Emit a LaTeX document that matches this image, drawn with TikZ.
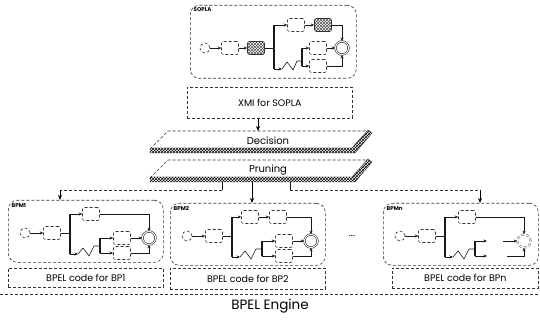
\documentclass[tikz,border=0pt]{standalone}
\usepackage{fontspec}
\setmainfont{Poppins}
\usetikzlibrary{arrows.meta,positioning,patterns}

\tikzset{
  line/.style={black!80, densely dashed, line width=0.6pt},
  panel/.style={draw=black!80, densely dashed, line width=0.6pt, rounded corners=9pt, anchor=north west, inner sep=0pt},
  codebox/.style={draw=black!80, densely dashed, line width=0.6pt, anchor=north west, inner sep=0pt, font=\fontsize{9.5}{10}\selectfont},
  tag/.style={font=\fontsize{5.5}{6}\selectfont\bfseries, inner sep=0.5pt},
  task/.style={draw=black!80, densely dashed, line width=0.6pt, rounded corners=2pt, minimum width=17pt, minimum height=13pt, inner sep=0pt},
  subproc/.style={task, solid, pattern=crosshatch, pattern color=black!70},
  startev/.style={circle, draw=black!80, densely dashed, line width=0.6pt, minimum size=10pt, inner sep=0pt},
  endev/.style={circle, draw=black!85, double, double distance=1pt, line width=0.6pt, minimum size=13pt, inner sep=0pt},
  flow/.style={-{Stealth[length=3.5pt,width=3pt]}, black!90, line width=0.6pt},
  seq/.style={black!90, line width=0.6pt},
  bar/.style={line width=1.6pt, black!90},
  arr/.style={-{Stealth[length=5pt,width=4pt]}, line width=0.8pt},
  plate/.style={pattern=crosshatch, pattern color=black, draw=black!80, line width=0.4pt},
}

\begin{document}
\begin{tikzpicture}[x=1pt,y=-1pt]
\useasboundingbox (0,0) rectangle (540,320);

% source model
\node[panel, minimum width=166pt, minimum height=73pt] (sopla) at (190,5) {};
\node[tag, below right=2pt and 3pt of sopla.north west] (soplatag) {SOPLA};
\begin{scope}[shift={(190,5)}, name prefix=s-]
  \node[startev] (st) at (15,43) {};
  \node[task] (a) at (40,43) {};
  \node[subproc] (h) at (66,43) {};
  \coordinate (b1t) at (84,20);
  \coordinate (b1b) at (84,64);
  \node[task] (u1) at (106,20) {};
  \node[subproc] (u2) at (133,20) {};
  \node[endev] (e) at (152,43) {};
  \coordinate (z0) at (92,64);
  \coordinate (b2t) at (112,43);
  \coordinate (b2b) at (112,61);
  \node[task] (l1) at (128,43) {};
  \node[task] (l2) at (128,61) {};
  \draw[bar] (b1t) -- (b1b);
  \draw[bar] (b2t) -- (b2b);
  \draw[flow] (st) -- (a);
  \draw[flow] (a) -- (h);
  \draw[seq] (h) -- (h -| b1t);
  \draw[flow] (b1t) -- (u1);
  \draw[flow] (u1) -- (u2);
  \draw[flow] (u2) -| (e);
  \draw[flow] (b1b) -- (z0);
  \draw[seq] (z0) -- (97,57) -- (103,65) -- (107,56) -- (b2t |- 0,56);
  \draw[flow] (b2t) -- (l1);
  \draw[flow] (b2b) -- (l2);
  \draw[flow] (l1) -- (e);
  \draw[flow] (l2) -| (e);
\end{scope}

\node[codebox, minimum width=165pt, minimum height=31pt] (xmi) at (187,87) {XMI for SOPLA};

% decision and pruning plates
\filldraw[plate] (150,148) -- (352,148) -- (368,130) -- (372,133) -- (355,153) -- (150,153) -- cycle;
\draw[line] (150,149) -- (168,131) -- (368,131);
\node[font=\fontsize{10}{10}\selectfont] (dec) at (268,141) {Decision};
\coordinate (dectop) at (258,131);
\draw[arr] (dectop |- xmi.south) -- (dectop);

\filldraw[plate] (150,177) -- (352,177) -- (368,159) -- (372,162) -- (355,182) -- (150,182) -- cycle;
\draw[line] (150,178) -- (168,160) -- (368,160);
\node[font=\fontsize{10}{10}\selectfont] (pru) at (268,170) {Pruning};

% generated models
\node[panel, minimum width=155pt, minimum height=62pt] (bpm1) at (8,200) {};
\node[panel, minimum width=155pt, minimum height=62pt] (bpm2) at (170,203) {};
\node[panel, minimum width=155pt, minimum height=62pt] (bpmn) at (383,203) {};
\node[tag, below right=3pt and 3pt of bpm1.north west] (bpm1tag) {BPM1};
\node[tag, below right=3pt and 3pt of bpm2.north west] (bpm2tag) {BPM2};
\node[tag, below right=3pt and 3pt of bpmn.north west] (bpmntag) {BPMn};

\coordinate (prL) at (222,182);
\coordinate (prM) at (252,182);
\coordinate (prR) at (290,182);
\coordinate (jL) at (60,190);
\coordinate (jR) at (480,190);
\draw[seq] (prL) -- (prL |- jL);
\draw[line] (prL |- jL) -- (jL);
\draw[arr] (jL) -- (jL |- bpm1.north);
\draw[arr] (prM) -- (prM |- bpm2.north);
\draw[seq] (prR) -- (prR |- jR);
\draw[line] (prR |- jR) -- (jR);
\draw[arr] (jR) -- (jR |- bpmn.north);

\begin{scope}[shift={(8,200)}, name prefix=p1-]
  \node[startev] (st) at (17,33) {};
  \node[task] (a) at (44,33) {};
  \coordinate (b1t) at (62,14);
  \coordinate (b1b) at (62,54);
  \node[task] (u1) at (83,14) {};
  \node[endev] (e) at (141,38) {};
  \coordinate (z0) at (70,54);
  \coordinate (b2t) at (92,38);
  \coordinate (b2b) at (92,53);
  \node[task] (l1) at (114,38) {};
  \node[task] (l2) at (114,53) {};
  \draw[bar] (b1t) -- (b1b);
  \draw[bar] (b2t) -- (b2b);
  \draw[flow] (st) -- (a);
  \draw[seq] (a) -- (a -| b1t);
  \draw[flow] (b1t) -- (u1);
  \draw[flow] (u1) -| (e);
  \draw[flow] (b1b) -- (z0);
  \draw[seq] (z0) -- (75,48) -- (81,56) -- (86,46) -- (b2t |- 0,46);
  \draw[flow] (b2t) -- (l1);
  \draw[flow] (b2b) -- (l2);
  \draw[flow] (l1) -- (e);
  \draw[flow] (l2) -| (e);
\end{scope}

\begin{scope}[shift={(170,203)}, name prefix=p2-]
  \node[startev] (st) at (17,33) {};
  \node[task] (a) at (44,33) {};
  \coordinate (b1t) at (62,14);
  \coordinate (b1b) at (62,54);
  \node[task] (u1) at (80,14) {};
  \node[task] (u2) at (108,14) {};
  \node[endev] (e) at (141,38) {};
  \coordinate (z0) at (70,54);
  \coordinate (b2t) at (92,38);
  \coordinate (b2b) at (92,53);
  \node[task] (l1) at (114,38) {};
  \node[task] (l2) at (114,53) {};
  \draw[bar] (b1t) -- (b1b);
  \draw[bar] (b2t) -- (b2b);
  \draw[flow] (st) -- (a);
  \draw[seq] (a) -- (a -| b1t);
  \draw[flow] (b1t) -- (u1);
  \draw[flow] (u1) -- (u2);
  \draw[flow] (u2) -| (e);
  \draw[flow] (b1b) -- (z0);
  \draw[seq] (z0) -- (75,48) -- (81,56) -- (86,46) -- (b2t |- 0,46);
  \draw[flow] (b2t) -- (l1);
  \draw[flow] (b2b) -- (l2);
  \draw[flow] (l1) -- (e);
  \draw[flow] (l2) -| (e);
\end{scope}

\node[font=\fontsize{10}{10}\selectfont] (dots) at (352,236) {...};

\begin{scope}[shift={(383,203)}, name prefix=pn-]
  \node[startev] (st) at (17,33) {};
  \node[task] (a) at (44,33) {};
  \coordinate (b1t) at (62,14);
  \coordinate (b1b) at (62,54);
  \node[task] (u1) at (84,14) {};
  \node[endev, draw=black!60, densely dashed] (e) at (141,38) {};
  \coordinate (z0) at (70,54);
  \coordinate (b2t) at (92,38);
  \coordinate (b2b) at (92,53);
  \coordinate (c1) at (104,38);
  \coordinate (c2) at (104,53);
  \coordinate (d1) at (120,38);
  \coordinate (d2) at (124,53);
  \draw[bar] (b1t) -- (b1b);
  \draw[bar] (b2t) -- (b2b);
  \draw[flow] (st) -- (a);
  \draw[seq] (a) -- (a -| b1t);
  \draw[flow] (b1t) -- (u1);
  \draw[flow] (u1) -| (e);
  \draw[flow] (b1b) -- (z0);
  \draw[seq] (z0) -- (75,48) -- (81,56) -- (86,46) -- (b2t |- 0,46);
  \draw[flow] (b2t) -- (c1);
  \draw[flow] (b2b) -- (c2);
  \draw[flow] (d1) -- (e);
  \draw[flow] (d2) -| (e);
\end{scope}

% generated code
\node[codebox, minimum width=155pt, minimum height=19pt] (code1) at (8,268) {BPEL code for BP1};
\node[codebox, minimum width=155pt, minimum height=21pt] (code2) at (170,268) {BPEL code for BP2};
\node[codebox, minimum width=146pt, minimum height=20pt] (coden) at (392,268) {BPEL code for BPn};

% engine
\draw[line] (0,294) -- (540,294);
\node[font=\fontsize{13.5}{14}\selectfont] (engine) at (270,306) {BPEL Engine};
\end{tikzpicture}
\end{document}
